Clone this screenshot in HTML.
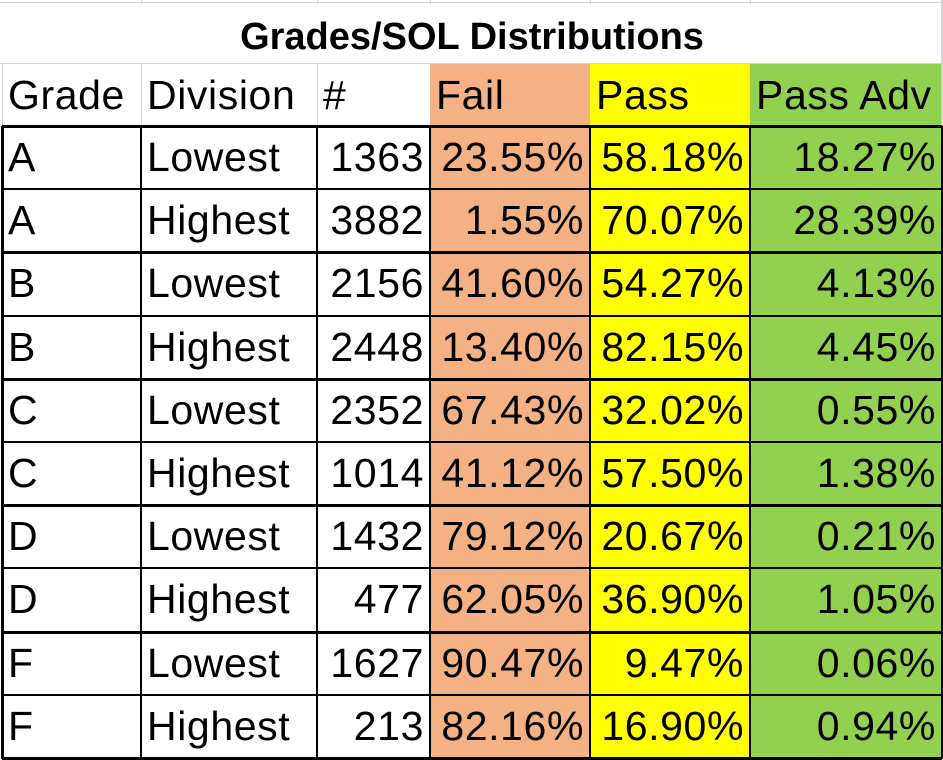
<!DOCTYPE html>
<html><head><meta charset="utf-8"><style>
body{margin:0;width:943px;height:760px;background:#fff;overflow:hidden;font-family:"Liberation Sans",sans-serif;}
.c{position:absolute;box-sizing:border-box;font-size:41px;letter-spacing:0.6px;color:#000;white-space:nowrap;line-height:63px;padding:0 6px;}
.r{text-align:right;}
.v{position:absolute;background:#000;}
.g{position:absolute;background:#d4d4d4;}
</style></head><body>
<div id="root"></div>
<script>
const grades=["A","A","B","B","C","C","D","D","F","F"];
const divisions=["Lowest","Highest","Lowest","Highest","Lowest","Highest","Lowest","Highest","Lowest","Highest"];
const counts=[1363,3882,2156,2448,2352,1014,1432,477,1627,213];
const fail=["23.55%","1.55%","41.60%","13.40%","67.43%","41.12%","79.12%","62.05%","90.47%","82.16%"];
const pass=["58.18%","70.07%","54.27%","82.15%","32.02%","57.50%","20.67%","36.90%","9.47%","16.90%"];
const adv=["18.27%","28.39%","4.13%","4.45%","0.55%","1.38%","0.21%","1.05%","0.06%","0.94%"];
const root=document.getElementById('root');
const X=[2,141,317,430,590,750,942];
const rowTop=i=>126+i*63.2;
const bgs=["#fff","#fff","#fff","#f4b183","#ffff00","#92d050"];
function cell(col,y,h,txt,right,name){
  const d=document.createElement('div');
  d.className='c'+(right?' r':'');
  d.style.left=X[col]+'px';d.style.top=y+'px';d.style.width=(X[col+1]-X[col])+'px';d.style.height=h+'px';d.style.lineHeight=h+'px';
  d.style.background=bgs[col];
  d.textContent=txt;
  
  
  root.appendChild(d);
}
function line(cls,x,y,w,h){
  const d=document.createElement('div');d.className=cls;
  d.style.left=x+'px';d.style.top=y+'px';d.style.width=w+'px';d.style.height=h+'px';
  
  
  root.appendChild(d);
}
// title
const t=document.createElement('div');
t.className='c';t.style.left='2px';t.style.top='4px';t.style.width='940px';t.style.height='60px';t.style.lineHeight='66px';
t.style.textAlign='center';t.style.fontWeight='bold';t.style.fontSize='38px';t.style.letterSpacing='0';
t.textContent='Grades/SOL Distributions';


root.appendChild(t);
// header
const heads=["Grade","Division","#","Fail","Pass","Pass Adv"];
heads.forEach((h,i)=>cell(i,64,62,h,false,'header-'+h.toLowerCase().replace(/[^a-z]+/g,'-')));
// data rows
for(let i=0;i<grades.length;i++){
  const y=rowTop(i),h=63.2;
  cell(0,y,h,grades[i],false,'grade-cell');
  cell(1,y,h,divisions[i],false,'division-cell');
  cell(2,y,h,String(counts[i]),true,'count-cell');
  cell(3,y,h,fail[i],true,'fail-cell');
  cell(4,y,h,pass[i],true,'pass-cell');
  cell(5,y,h,adv[i],true,'pass-adv-cell');
}
// light gridlines in title/header area
line('g',0,2,943,1);line('g',0,63,943,1);
[141,317,430,590,750].forEach(x=>line('g',x,0,1,4));
[2,141,317].forEach(x=>line('g',x,64,1,62));
line('g',941,0,2,126);
// data borders
const bottom=rowTop(10);
for(let i=0;i<=10;i++){const th=(i%2===0)?3:2;line('v',X[0],rowTop(i)-1,X[6]-X[0],th);}
X.forEach((x,j)=>{const th=(j===0||j===6)?3:2;line('v',x-1,rowTop(0),th,bottom-rowTop(0)+1);});
</script>
</body></html>
